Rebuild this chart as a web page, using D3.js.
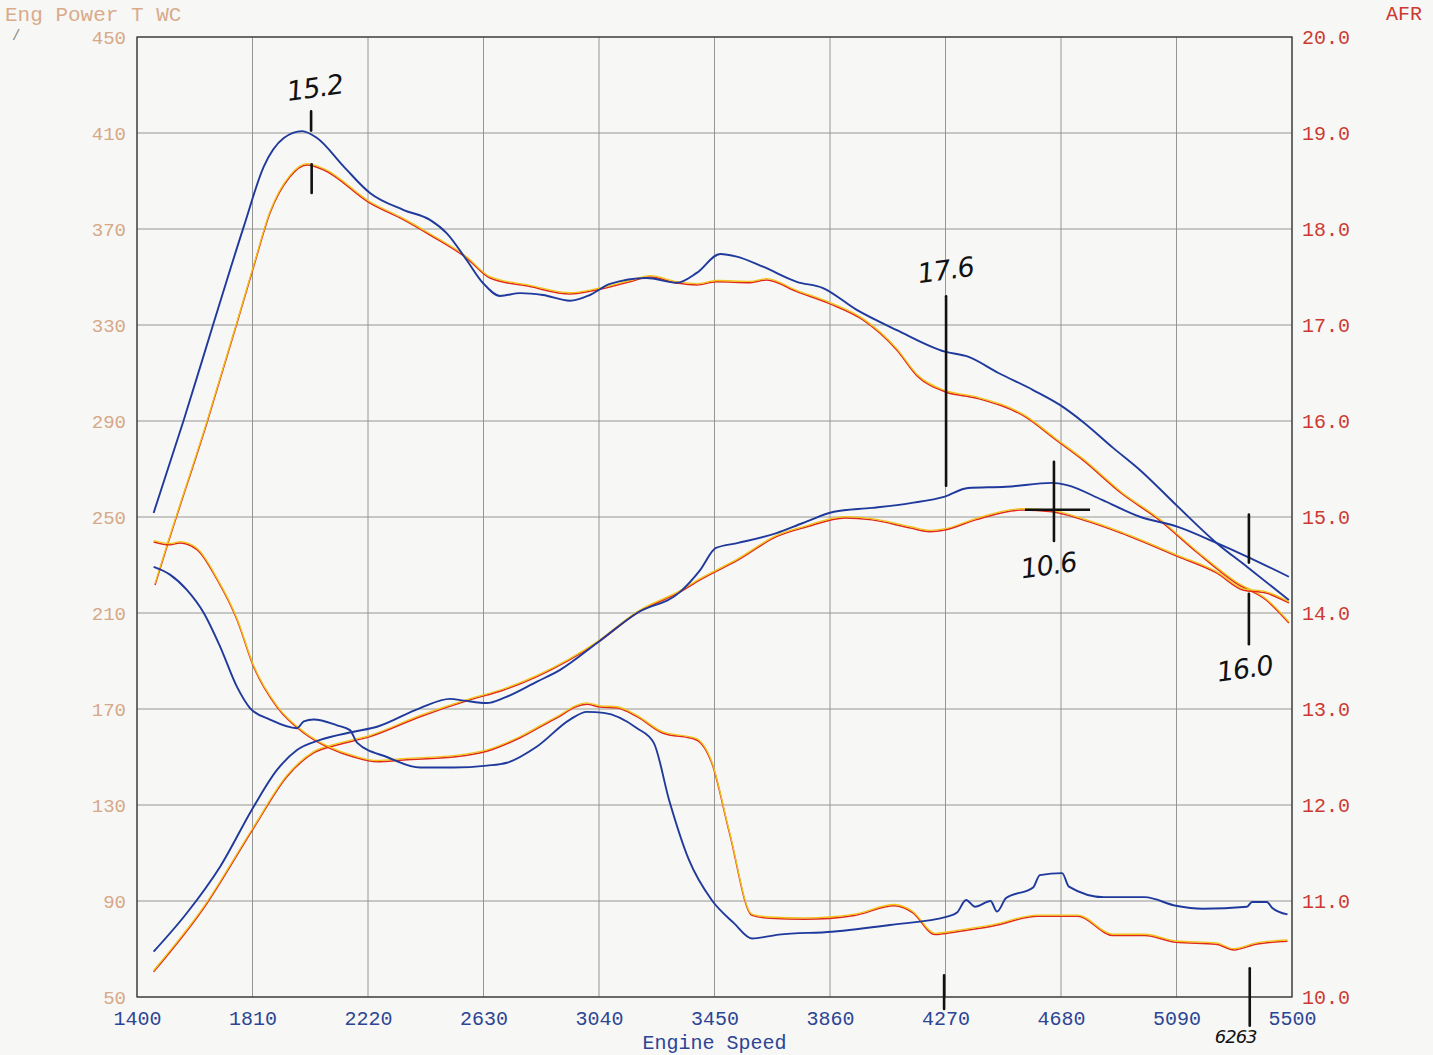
<!DOCTYPE html>
<html>
<head>
<meta charset="utf-8">
<script src="https://cdn.jsdelivr.net/npm/d3@7"></script>
<style>
html,body{margin:0;padding:0;background:#f7f7f5;}
svg{display:block;}
</style>
</head>
<body>
<svg id="chart" width="1433" height="1055"></svg>
<script>
// ---------------- DATA ----------------
const rpmTicks = [1400,1810,2220,2630,3040,3450,3860,4270,4680,5090,5500];
const leftTicks = [450,410,370,330,290,250,210,170,130,90,50];
const rightTicks = [20.0,19.0,18.0,17.0,16.0,15.0,14.0,13.0,12.0,11.0,10.0];

// Upper curve (left axis) - run A (blue)
const upperA = [[1459,251.7],[1566,290.4],[1672,330.8],[1779,371.0],[1850,396.0],[1921,407.9],[1986,410.8],[2039,407.9],[2134,396.0],[2227,385.0],[2347,377.9],[2440,373.8],[2499,368.3],[2570,357.1],[2628,347.5],[2689,342.1],[2760,343.3],[2841,342.5],[2937,340.1],[3008,342.5],[3079,347.1],[3209,349.6],[3316,347.6],[3387,351.7],[3470,359.6],[3529,358.5],[3622,354.3],[3742,348.0],[3835,345.4],[3955,336.3],[4097,327.9],[4268,318.9],[4350,316.8],[4458,310.0],[4581,302.9],[4676,296.7],[4757,289.7],[4865,278.8],[4960,269.6],[5095,254.3],[5232,239.2],[5340,229.3],[5489,215.4]];
// Upper curve (left axis) - run B (orange)
const upperB = [[1464,221.7],[1506,237.6],[1648,289.2],[1755,330.8],[1814,354.3],[1872,376.7],[1943,391.8],[2003,396.7],[2063,394.6],[2227,380.8],[2347,373.8],[2440,367.5],[2570,357.9],[2653,349.6],[2795,346.0],[2937,342.9],[3032,344.6],[3150,348.0],[3221,350.0],[3316,347.5],[3387,346.7],[3458,348.0],[3576,347.6],[3635,348.8],[3742,343.9],[3860,338.8],[3977,332.1],[4097,319.6],[4172,308.5],[4268,302.2],[4377,299.6],[4552,291.8],[4662,282.1],[4757,273.8],[4893,260.0],[5028,248.8],[5165,235.0],[5301,222.5],[5408,215.4],[5489,205.8]];
// Rising curve (left axis) - run A (blue)
const lowerA = [[1459,68.9],[1577,85.0],[1695,104.3],[1814,129.3],[1897,144.6],[1968,152.9],[2050,157.1],[2169,160.5],[2252,162.6],[2405,170.4],[2511,174.2],[2560,173.5],[2642,172.5],[2702,174.6],[2820,181.4],[2902,186.3],[3033,197.5],[3175,210.0],[3328,218.8],[3399,227.9],[3455,237.1],[3534,239.2],[3670,243.3],[3764,247.5],[3874,252.2],[4009,253.8],[4146,255.8],[4268,258.5],[4350,262.1],[4485,262.6],[4648,264.2],[4701,263.3],[4826,257.1],[4960,250.1],[5095,245.9],[5232,239.2],[5340,233.5],[5489,225.1]];
// Rising curve (left axis) - run B (orange)
const lowerB = [[1459,60.5],[1637,87.1],[1814,120.4],[1932,141.8],[2027,151.7],[2110,155.0],[2227,158.5],[2405,166.8],[2582,173.8],[2702,177.9],[2820,183.5],[3033,197.5],[3175,210.0],[3328,218.8],[3399,223.8],[3534,232.1],[3670,241.8],[3778,245.9],[3913,249.6],[4009,248.8],[4146,245.4],[4214,243.9],[4268,244.6],[4377,248.8],[4540,252.9],[4648,252.2],[4757,248.8],[4893,243.3],[5095,233.5],[5232,226.7],[5326,219.6],[5408,218.3],[5489,214.2]];
// AFR (right axis) - run A (blue)
const afrA = [[1459,14.48],[1517,14.40],[1577,14.24],[1637,14.00],[1695,13.65],[1755,13.23],[1801,13.01],[1872,12.89],[1968,12.80],[1992,12.87],[2027,12.89],[2110,12.83],[2156,12.78],[2181,12.65],[2287,12.50],[2405,12.39],[2524,12.39],[2642,12.41],[2713,12.44],[2820,12.61],[2937,12.89],[2997,12.97],[3057,12.96],[3175,12.80],[3234,12.65],[3289,12.05],[3359,11.43],[3440,11.01],[3519,10.77],[3583,10.61],[3678,10.65],[3867,10.68],[4073,10.75],[4279,10.84],[4311,10.88],[4343,11.01],[4375,10.94],[4430,11.00],[4453,10.89],[4485,11.03],[4581,11.14],[4605,11.27],[4684,11.29],[4708,11.15],[4833,11.04],[4977,11.04],[5088,10.95],[5183,10.92],[5340,10.94],[5358,10.99],[5411,10.99],[5429,10.93],[5484,10.86]];
// AFR (right axis) - run B (orange)
const afrB = [[1459,14.74],[1517,14.71],[1553,14.73],[1613,14.66],[1684,14.35],[1755,13.93],[1814,13.44],[1897,13.02],[1992,12.75],[2085,12.59],[2169,12.50],[2252,12.45],[2347,12.47],[2524,12.50],[2642,12.56],[2760,12.70],[2879,12.89],[2997,13.05],[3044,13.02],[3104,13.01],[3175,12.92],[3265,12.75],[3384,12.68],[3440,12.44],[3503,11.71],[3583,10.85],[3646,10.82],[3771,10.81],[3947,10.85],[4089,10.95],[4153,10.88],[4233,10.65],[4311,10.68],[4439,10.74],[4597,10.84],[4739,10.84],[4865,10.64],[4977,10.64],[5088,10.57],[5230,10.55],[5294,10.49],[5372,10.55],[5484,10.58]];

// Hand-written notes: [rpm, value(left axis), text, tilt]
const noteTexts = [[2036,425,"15.2",-8],[4275,349,"17.6",-8],[4640,226,"10.6",-8],[5337,183,"16.0",-8],[5300,31,"6263",0]];
// Hand-drawn marker strokes: [rpm, from, to] in left-axis units
const noteMarks = [[2018,419,411],[2020,397,385],[4272,342,263],[4655,273,240],[5347,251,231],[5347,218,197],[4265,59,45],[5350,62,38]];
const noteHBar = [[4552,4783,253]];

// ---------------- CHART ----------------
const svg = d3.select("#chart");
const X0 = 137, X1 = 1292, Y0 = 37, Y1 = 997;
const x = d3.scaleLinear().domain([1400,5500]).range([X0,X1]);
const yL = d3.scaleLinear().domain([50,450]).range([Y1,Y0]);
const yR = d3.scaleLinear().domain([10,20]).range([Y1,Y0]);

const mono = "'Liberation Mono','DejaVu Sans Mono',monospace";

// grid
const g = svg.append("g");
g.selectAll(".vg").data(rpmTicks).join("line")
  .attr("x1",d=>x(d)).attr("x2",d=>x(d)).attr("y1",Y0).attr("y2",Y1)
  .attr("stroke","#8a8a8a").attr("stroke-width",0.9);
g.selectAll(".hg").data(leftTicks).join("line")
  .attr("y1",d=>yL(d)).attr("y2",d=>yL(d)).attr("x1",X0).attr("x2",X1)
  .attr("stroke","#8a8a8a").attr("stroke-width",0.9);
// frame
g.append("rect").attr("x",X0).attr("y",Y0).attr("width",X1-X0).attr("height",Y1-Y0)
  .attr("fill","none").attr("stroke","#3a3a3a").attr("stroke-width",1.3);

// axes (labels via d3 axes)
const axL = d3.axisLeft(yL).tickValues(leftTicks).tickSize(0).tickPadding(11).tickFormat(d3.format("d"));
const gl = svg.append("g").attr("transform",`translate(${X0},0)`).call(axL);
gl.select(".domain").remove();
gl.selectAll("text").attr("fill","#d6a888").style("font-family",mono).style("font-size","19px");

const axR = d3.axisRight(yR).tickValues(rightTicks).tickSize(0).tickPadding(10).tickFormat(d3.format(".1f"));
const gr = svg.append("g").attr("transform",`translate(${X1},0)`).call(axR);
gr.select(".domain").remove();
gr.selectAll("text").attr("fill","#cc3a34").style("font-family",mono).style("font-size","20px");

const axB = d3.axisBottom(x).tickValues(rpmTicks).tickSize(0).tickPadding(14).tickFormat(d3.format("d"));
const gb = svg.append("g").attr("transform",`translate(0,${Y1})`).call(axB);
gb.select(".domain").remove();
gb.selectAll("text").attr("fill","#2c4594").style("font-family",mono).style("font-size","20px");

// titles
svg.append("text").attr("x",5).attr("y",21).text("Eng Power T WC")
  .attr("fill","#d9ab8c").style("font-family",mono).style("font-size","21px");
svg.append("text").attr("x",1422).attr("y",20).attr("text-anchor","end").text("AFR")
  .attr("fill","#cc3a34").style("font-family",mono).style("font-size","20px");
svg.append("text").attr("x",x(3450)).attr("y",1049).attr("text-anchor","middle").text("Engine Speed")
  .attr("fill","#2c4594").style("font-family",mono).style("font-size","20px");
svg.append("text").attr("x",12).attr("y",40).text("/").attr("fill","#888").style("font-family",mono).style("font-size","14px");

// lines
const lineL = d3.line().x(d=>x(d[0])).y(d=>yL(d[1])).curve(d3.curveMonotoneX);
const lineR = d3.line().x(d=>x(d[0])).y(d=>yR(d[1])).curve(d3.curveMonotoneX);

function orange(path){
  svg.append("path").attr("d",path).attr("fill","none").attr("stroke","#e0281e").attr("stroke-width",1.5);
  svg.append("path").attr("d",path).attr("fill","none").attr("stroke","#f2c21a").attr("stroke-width",1.3)
    .attr("transform","translate(0,-1.3)");
}
function blue(path){
  svg.append("path").attr("d",path).attr("fill","none").attr("stroke","#1f3a9c").attr("stroke-width",1.9);
}
orange(lineL(upperB)); orange(lineL(lowerB)); orange(lineR(afrB));
blue(lineL(upperA)); blue(lineL(lowerA)); blue(lineR(afrA));

// hand-written notes
const hand = "'DejaVu Sans','Noto Sans',sans-serif";
svg.selectAll(".note").data(noteTexts).join("text")
  .attr("x",d=>x(d[0])).attr("y",d=>yL(d[1])).attr("text-anchor","middle")
  .text(d=>d[2]).attr("fill","#111").style("font-family",hand).style("font-style","italic")
  .style("font-size",d=>d[2]==="6263"?"18px":"27px").style("letter-spacing","-1px")
  .attr("transform",d=>`rotate(${d[3]},${x(d[0])},${yL(d[1])})`);
svg.selectAll(".mark").data(noteMarks).join("line")
  .attr("x1",d=>x(d[0])).attr("x2",d=>x(d[0])).attr("y1",d=>yL(d[1])).attr("y2",d=>yL(d[2]))
  .attr("stroke","#111").attr("stroke-width",2.6).attr("stroke-linecap","round");
svg.selectAll(".hbar").data(noteHBar).join("line")
  .attr("x1",d=>x(d[0])).attr("x2",d=>x(d[1])).attr("y1",d=>yL(d[2])).attr("y2",d=>yL(d[2]))
  .attr("stroke","#111").attr("stroke-width",2.4);
</script>
</body>
</html>
